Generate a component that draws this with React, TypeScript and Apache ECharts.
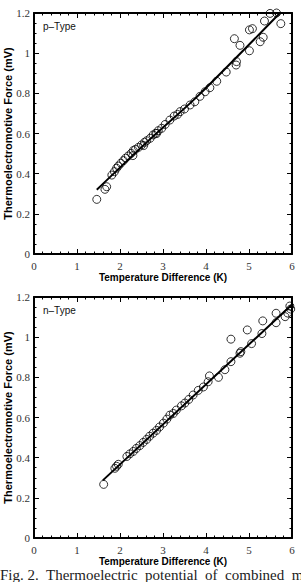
import React, { useEffect, useRef } from "react";
import * as echarts from "echarts";

const xTicks = [0, 1, 2, 3, 4, 5, 6];
const yTicks = [0, 0.2, 0.4, 0.6, 0.8, 1, 1.2];

const pX = [1.46, 1.65, 1.69, 1.81, 1.87, 1.92, 1.96, 2.02, 2.08, 2.13, 2.19, 2.26, 2.31, 2.36, 2.43, 2.5, 2.57, 2.62, 2.7, 2.77, 2.83, 2.89, 2.97, 3.05, 3.16, 3.26, 3.34, 3.4, 3.5, 3.63, 3.74, 3.86, 3.98, 4.09, 4.25, 4.47, 4.7, 4.71, 4.66, 4.79, 5.01, 5.01, 5.08, 5.26, 5.33, 5.36, 5.49, 5.64, 5.74, 2.3, 2.55, 2.85];
const pY = [0.272, 0.322, 0.335, 0.393, 0.41, 0.427, 0.438, 0.452, 0.465, 0.477, 0.488, 0.501, 0.515, 0.521, 0.531, 0.543, 0.556, 0.564, 0.576, 0.593, 0.601, 0.614, 0.626, 0.645, 0.667, 0.687, 0.695, 0.709, 0.722, 0.742, 0.758, 0.785, 0.808, 0.828, 0.86, 0.906, 0.941, 0.958, 1.072, 1.039, 1.012, 1.116, 1.122, 1.057, 1.079, 1.16, 1.198, 1.2, 1.147, 0.49, 0.54, 0.6];
const pFitX = [1.46, 2.7, 3.8, 5.72];
const pFitY = [0.32, 0.572, 0.785, 1.2];

const nX = [1.62, 1.88, 1.92, 1.96, 2.16, 2.23, 2.31, 2.38, 2.46, 2.54, 2.62, 2.69, 2.77, 2.85, 2.92, 3.01, 3.09, 3.16, 3.24, 3.31, 3.43, 3.51, 3.6, 3.7, 3.82, 3.94, 4.05, 4.08, 4.29, 4.44, 4.58, 4.58, 4.79, 4.81, 4.96, 5.06, 5.3, 5.32, 5.63, 5.63, 5.84, 5.9, 5.95, 5.97];
const nY = [0.267, 0.347, 0.357, 0.367, 0.406, 0.419, 0.431, 0.446, 0.46, 0.476, 0.491, 0.507, 0.522, 0.536, 0.553, 0.572, 0.592, 0.612, 0.62, 0.637, 0.658, 0.672, 0.69, 0.712, 0.735, 0.752, 0.778, 0.807, 0.8, 0.838, 0.878, 0.99, 0.92, 0.928, 1.036, 0.968, 1.018, 1.081, 1.072, 1.119, 1.102, 1.12, 1.155, 1.14];
const nFitX = [1.6, 6.0];
const nFitY = [0.287, 1.163];

const panelLabels = ["p\u2013Type", "n\u2013Type"];
const xName = "Temperature Difference (K)";
const yName = "Thermoelectromotive Force (mV)";
const caption = "Fig. 2.  Thermoelectric  potential  of  combined  m";

const zip = (a: number[], b: number[]) => a.map((v, i) => [v, b[i]]);

export default function App() {
  const ref = useRef<HTMLDivElement>(null);
  useEffect(() => {
    document.body.style.margin = "0";
    const chart = echarts.init(ref.current!, null, { renderer: "svg" });
    const grids = [
      { left: 34, top: 13, width: 258, height: 241, outerBoundsMode: "none", containLabel: false },
      { left: 34, top: 297, width: 258, height: 241, outerBoundsMode: "none", containLabel: false },
    ];
    const labelFont = { fontFamily: "Liberation Serif", fontSize: 11, color: "#333" };
    const xAxes: any[] = [];
    const yAxes: any[] = [];
    grids.forEach((_, gi) => {
      const common = {
        gridIndex: gi,
        axisLine: { show: true, onZero: false, lineStyle: { color: "#000", width: 2 } },
        axisTick: { show: true, inside: true, length: 5, lineStyle: { color: "#000", width: 1 } },
        minorTick: { show: true, length: 2.5, lineStyle: { color: "#000", width: 1 } },
        splitLine: { show: false },
      };
      xAxes.push({
        ...common,
        type: "value",
        position: "bottom",
        min: xTicks[0],
        max: xTicks[xTicks.length - 1],
        interval: 1,
        minorTick: { ...common.minorTick, splitNumber: 5 },
        axisLabel: { ...labelFont, margin: 6 },
        name: xName,
        nameLocation: "middle",
        nameGap: 18.5,
        nameMoveOverlap: false,
        nameTextStyle: { fontFamily: "Liberation Sans", fontWeight: "bold", fontSize: 10, color: "#000" },
      });
      xAxes.push({
        ...common,
        type: "value",
        position: "top",
        min: xTicks[0],
        max: xTicks[xTicks.length - 1],
        interval: 1,
        minorTick: { ...common.minorTick, splitNumber: 5 },
        axisLabel: { show: false },
      });
      yAxes.push({
        ...common,
        type: "value",
        position: "left",
        min: yTicks[0],
        max: yTicks[yTicks.length - 1],
        interval: 0.2,
        minorTick: { ...common.minorTick, splitNumber: 4 },
        axisLabel: { ...labelFont, margin: 4 },
        name: yName,
        nameLocation: "middle",
        nameGap: 21,
        nameMoveOverlap: false,
        nameTextStyle: { fontFamily: "Liberation Sans", fontWeight: "bold", fontSize: 11, color: "#000" },
      });
      yAxes.push({
        ...common,
        type: "value",
        position: "right",
        min: yTicks[0],
        max: yTicks[yTicks.length - 1],
        interval: 0.2,
        minorTick: { ...common.minorTick, splitNumber: 4 },
        axisLabel: { show: false },
      });
    });
    const scatter = (data: number[][], gi: number) => ({
      type: "scatter",
      xAxisIndex: gi * 2,
      yAxisIndex: gi * 2,
      data,
      symbol: "circle",
      symbolSize: 8,
      clip: false,
      itemStyle: { color: "rgba(0,0,0,0)", borderColor: "#000", borderWidth: 1 },
      z: 3,
    });
    const fit = (data: number[][], gi: number) => ({
      type: "line",
      xAxisIndex: gi * 2,
      yAxisIndex: gi * 2,
      data,
      symbol: "none",
      smooth: 0.3,
      lineStyle: { color: "#000", width: 2 },
      z: 2,
    });
    chart.setOption({
      animation: false,
      backgroundColor: "#fff",
      grid: grids,
      xAxis: xAxes,
      yAxis: yAxes,
      series: [
        scatter(zip(pX, pY), 0),
        fit(zip(pFitX, pFitY), 0),
        scatter(zip(nX, nY), 1),
        fit(zip(nFitX, nFitY), 1),
      ],
      graphic: [
        { type: "text", left: 43, top: 21, style: { text: panelLabels[0], font: "10px 'Liberation Sans'", fill: "#111" } },
        { type: "text", left: 43, top: 305, style: { text: panelLabels[1], font: "10px 'Liberation Sans'", fill: "#111" } },
        { type: "text", left: 0, top: 567, style: { text: caption, font: "15px 'Liberation Serif'", fill: "#222" } },
      ],
    });
    return () => chart.dispose();
  }, []);
  return <div ref={ref} style={{ width: 301, height: 582 }} />;
}
